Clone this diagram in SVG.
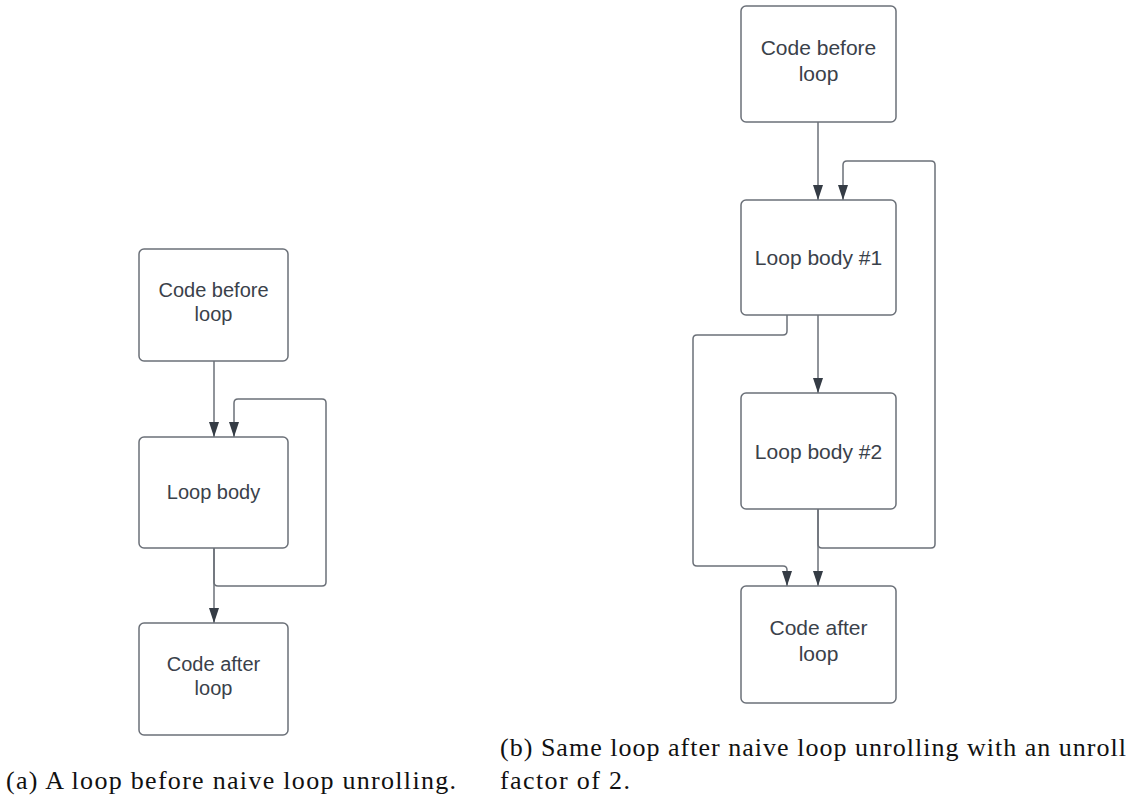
<svg xmlns="http://www.w3.org/2000/svg" width="1130" height="798" viewBox="0 0 1130 798">
<style>
.box{fill:#fff;stroke:#6b7078;stroke-width:1.5}
.lbl{font-family:"Liberation Sans",Arial,sans-serif;fill:#3a414a;text-anchor:middle}
.s20{font-size:20px}
.s21{font-size:21px}
.edge{fill:none;stroke:#6b7078;stroke-width:1.5;stroke-linejoin:round}
.cap{font-family:"Liberation Serif","Times New Roman",serif;font-size:26px;fill:#111}
</style>
<defs>
<marker id="ah" markerWidth="15" markerHeight="10" refX="15" refY="5" orient="auto" markerUnits="userSpaceOnUse" viewBox="0 0 15 10">
<path d="M0,0 L15,5 L0,10 Z" fill="#353c45"/>
</marker>
</defs>
<rect width="1130" height="798" fill="#fff"/>
<g id="connectors">
<path class="edge" d="M214,361 V437" marker-end="url(#ah)"/>
<path class="edge" d="M214,548 V582 Q214,586 218,586 H322 Q326,586 326,582 V403 Q326,399 322,399 H238 Q234,399 234,403 V437" marker-end="url(#ah)"/>
<path class="edge" d="M214,548 V623" marker-end="url(#ah)"/>
<path class="edge" d="M818,122 V200" marker-end="url(#ah)"/>
<path class="edge" d="M818,315 V393" marker-end="url(#ah)"/>
<path class="edge" d="M818,509 V586" marker-end="url(#ah)"/>
<path class="edge" d="M818,509 V544 Q818,548 822,548 H931 Q935,548 935,544 V165 Q935,161 931,161 H847 Q843,161 843,165 V200" marker-end="url(#ah)"/>
<path class="edge" d="M787,315 V331 Q787,335 783,335 H697 Q693,335 693,339 V562 Q693,566 697,566 H783 Q787,566 787,570 V586" marker-end="url(#ah)"/>
</g>
<g id="a_before">
<rect class="box" x="139" y="249" width="149" height="112" rx="5"/>
<text class="lbl s20" x="213.5" y="297">Code before</text>
<text class="lbl s20" x="213.5" y="321">loop</text>
</g>
<g id="a_body">
<rect class="box" x="139" y="437" width="149" height="111" rx="5"/>
<text class="lbl s20" x="213.5" y="499">Loop body</text>
</g>
<g id="a_after">
<rect class="box" x="139" y="623" width="149" height="112" rx="5"/>
<text class="lbl s20" x="213.5" y="671">Code after</text>
<text class="lbl s20" x="213.5" y="695">loop</text>
</g>
<g id="b_before">
<rect class="box" x="741" y="6" width="155" height="116" rx="5"/>
<text class="lbl s21" x="818.5" y="55">Code before</text>
<text class="lbl s21" x="818.5" y="81">loop</text>
</g>
<g id="b_body1">
<rect class="box" x="741" y="200" width="155" height="115" rx="5"/>
<text class="lbl s21" x="818.5" y="265">Loop body #1</text>
</g>
<g id="b_body2">
<rect class="box" x="741" y="393" width="155" height="116" rx="5"/>
<text class="lbl s21" x="818.5" y="459">Loop body #2</text>
</g>
<g id="b_after">
<rect class="box" x="741" y="586" width="155" height="117" rx="5"/>
<text class="lbl s21" x="818.5" y="635">Code after</text>
<text class="lbl s21" x="818.5" y="661">loop</text>
</g>
<g id="captions">
<text class="cap" x="6" y="789" textLength="450" lengthAdjust="spacing">(a) A loop before naive loop unrolling.</text>
<text class="cap" x="500" y="756" textLength="626" lengthAdjust="spacing">(b) Same loop after naive loop unrolling with an unroll</text>
<text class="cap" x="500" y="789" textLength="130" lengthAdjust="spacing">factor of 2.</text>
</g>
</svg>
